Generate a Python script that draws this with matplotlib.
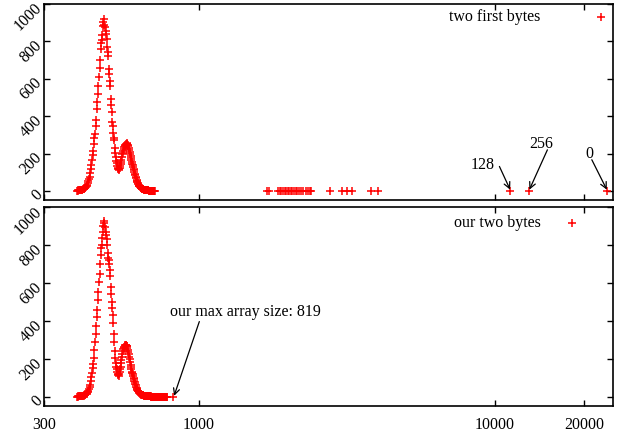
import matplotlib
matplotlib.use("Agg")
import matplotlib.pyplot as plt
from matplotlib.transforms import ScaledTranslation

plt.rcParams['font.family'] = ['Liberation Serif', 'DejaVu Serif']
FS = 11.5

# ---------------- data ----------------
# main distributions, sampled every 2 sizes starting at 388
grid_start = 388
grid_step = 2
top_main = [2, 2, 3, 3, 4, 4, 5, 6, 7, 8, 9, 11, 14, 17, 20, 25, 33, 41, 52, 62,
            72, 95, 118, 140, 168, 190, 215, 250, 285, 305, 345, 380, 440, 475, 520, 560,
            610, 660, 700, 760, 790, 805, 835, 880, 905, 920, 890, 875, 855, 840, 815, 770,
            745, 720, 650, 625, 590, 560, 490, 460, 420, 370, 345, 310, 285, 270, 230, 205,
            180, 160, 148, 135, 125, 118, 114, 118, 124, 132, 142, 155, 168, 180, 195, 205,
            215, 225, 235, 240, 245, 248, 252, 255, 250, 252, 245, 238, 230, 220, 210, 200,
            188, 175, 165, 155, 145, 138, 130, 120, 112, 102, 92, 84, 76, 68, 60, 53,
            47, 42, 37, 33, 29, 26, 24, 21, 18, 16, 14, 12, 11, 10, 9, 8,
            7, 7, 6, 6, 5, 5, 4, 4, 4, 3, 3, 3, 3, 2, 2, 2,
            2, 2, 2, 1, 2, 1, 1, 1, 1, 1, 1, 1, 1, 1]
top_extra_x = [1694, 1728, 1857, 1880, 1900, 1925, 1950, 1975, 2000, 2020, 2048, 2070, 2100,
               2130, 2150, 2180, 2220, 2250, 2300, 2330, 2370, 2400, 2772, 3040, 3158, 3284,
               3804, 4040, 11260, 13020, 23880]
top_extra_y = [1] * len(top_extra_x)

bot_main = [1, 1, 2, 2, 2, 3, 3, 4, 4, 5, 6, 7, 9, 11, 14, 17, 21, 26, 32, 40,
            50, 63, 85, 105, 128, 150, 175, 205, 245, 290, 330, 375, 420, 460, 510, 555,
            605, 650, 700, 750, 785, 800, 840, 870, 900, 930, 915, 895, 870, 855, 835, 800,
            760, 735, 720, 700, 670, 640, 580, 545, 500, 470, 430, 390, 330, 290, 240, 205,
            180, 160, 145, 132, 122, 115, 112, 118, 130, 145, 160, 178, 195, 212, 228, 240,
            250, 258, 265, 270, 274, 276, 274, 270, 266, 258, 248, 238, 225, 212, 198, 185,
            170, 158, 145, 133, 124, 118, 110, 100, 92, 84, 76, 68, 60, 53, 47, 42,
            37, 33, 29, 26, 23, 21, 19, 17, 15, 13, 12, 10, 9, 8, 7, 7,
            6, 6, 5, 5, 4, 4, 4, 3, 3, 3, 3, 2, 2, 2, 2, 2,
            2, 2, 1, 2, 1, 1, 1, 1, 1, 1, 1, 1, 1, 1, 1, 1,
            1, 1, 1, 1, 1, 1, 1, 1, 1, 1, 1, 1, 1, 1, 1, 1,
            1, 1, 1, 1, 1, 1, 1, 1, 1, 1, 1, 1, 1, 1, 1, 1, 1]
bot_extra_x = [819]
bot_extra_y = [1]

xticks = [300, 1000, 10000, 20000]
xtick_labels = ["300", "1000", "10000", "20000"]
yticks = [0, 200, 400, 600, 800, 1000]
xlim = (300, 25000)
ylim = (-50, 1000)

top_x = [grid_start + grid_step * i for i in range(len(top_main))] + top_extra_x
top_y = top_main + top_extra_y
bot_x = [grid_start + grid_step * i for i in range(len(bot_main))] + bot_extra_x
bot_y = bot_main + bot_extra_y

# ---------------- figure ----------------
W, H = 618, 434
fig = plt.figure(figsize=(W / 100, H / 100), dpi=100)
L, R = 44, 612.7
ax1 = fig.add_axes([L / W, 1 - 200.3 / H, (R - L) / W, (200.3 - 4) / H])
ax2 = fig.add_axes([L / W, 1 - 406.3 / H, (R - L) / W, (406.3 - 207.3) / H])

MS, MEW = 5.5, 1.1
shift = ScaledTranslation(0, -2 / 100, fig.dpi_scale_trans)

for ax, xs, ys in ((ax1, top_x, top_y), (ax2, bot_x, bot_y)):
    ax.plot(xs, ys, '+', color='red', ms=MS, mew=MEW, linestyle='none')
    ax.set_xscale('log')
    ax.set_xlim(*xlim)
    ax.set_ylim(*ylim)
    ax.set_xticks(xticks)
    ax.minorticks_off()
    ax.set_yticks(yticks)
    ax.tick_params(direction='in', length=4, width=1, top=True, right=True,
                   labelsize=FS, color='black')
    ax.tick_params(axis='y', pad=3)
    ax.tick_params(axis='x', pad=8)
    for lab in ax.get_yticklabels():
        lab.set_rotation(45)
        lab.set_rotation_mode('anchor')
        lab.set_ha('right')
        lab.set_va('center')
        lab.set_transform(lab.get_transform() + shift)
    for s in ax.spines.values():
        s.set_linewidth(1.2)
        s.set_color('black')

ax1.set_xticklabels([])
ax2.set_xticklabels(xtick_labels)

# legends (gnuplot style: text then sample)
ax1.text(0.8722, 0.9338, "two first bytes", transform=ax1.transAxes, ha='right',
         va='center', fontsize=FS)
ax1.plot([0.9794], [0.9338], '+', color='red', ms=MS, mew=MEW, transform=ax1.transAxes,
         clip_on=False)
ax2.text(0.8739, 0.9226, "our two bytes", transform=ax2.transAxes, ha='right',
         va='center', fontsize=FS)
ax2.plot([0.9284], [0.9226], '+', color='red', ms=MS, mew=MEW, transform=ax2.transAxes,
         clip_on=False)

arrow = dict(arrowstyle='->', color='black', lw=0.9, mutation_scale=11,
             shrinkA=0, shrinkB=0)
# top annotations
ax1.text(9090, 140, "128", ha='center', va='center', fontsize=FS)
ax1.annotate("", xy=(11260, 7), xytext=(10360, 131), arrowprops=arrow)
ax1.text(14280, 252, "256", ha='center', va='center', fontsize=FS)
ax1.annotate("", xy=(13080, 7), xytext=(15045, 220), arrowprops=arrow)
ax1.text(20830, 199, "0", ha='center', va='center', fontsize=FS)
ax1.annotate("", xy=(23880, 7), xytext=(21250, 167), arrowprops=arrow)
# bottom annotation
ax2.text(1436, 445, "our max array size: 819", ha='center', va='center', fontsize=FS)
ax2.annotate("", xy=(825, 5), xytext=(1004, 397), arrowprops=arrow)

fig.savefig("out.png", dpi=100)
